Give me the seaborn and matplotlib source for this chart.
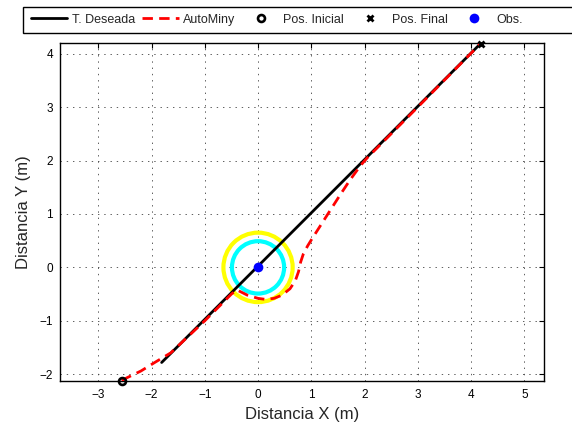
import numpy as np
import pandas as pd
import seaborn as sns
import matplotlib
matplotlib.use("Agg")
import matplotlib.pyplot as plt
from matplotlib.patches import Circle, Rectangle

# ---- data ----
des_x = [-1.81, 4.18]
des_y = [-1.78, 4.19]

auto_x = [-2.56, -2.47, -2.20, -1.94, -1.64, -1.00, -0.50, -0.40, -0.20, 0.00, 0.15,
          0.30, 0.45, 0.60, 0.70, 0.76, 0.80, 0.85, 0.93, 1.01, 1.19, 1.37, 1.55,
          1.73, 1.92, 2.05, 3.00, 4.18]
auto_y = [-2.12, -2.07, -1.94, -1.78, -1.60, -1.00, -0.50, -0.42, -0.52, -0.58, -0.60,
          -0.58, -0.52, -0.40, -0.25, -0.08, 0.10, 0.25, 0.40, 0.53, 0.81, 1.09, 1.37,
          1.64, 1.90, 2.05, 3.00, 4.19]

start_pt = (-2.56, -2.12)
end_pt = (4.18, 4.19)
obs_pt = (0.0, 0.0)
obs_radii = [0.65, 0.49]
obs_colors = ["#ffff00", "#00ffff"]

xticks = [-3, -2, -1, 0, 1, 2, 3, 4, 5]
yticks = [-2, -1, 0, 1, 2, 3, 4]
labels = ["T. Deseada", "AutoMiny", "Pos. Inicial", "Pos. Final", "Obs."]

# ---- style ----
sns.set_style("white")
plt.rcParams["font.family"] = ["Liberation Sans", "DejaVu Sans"]
plt.rcParams["axes.unicode_minus"] = True
plt.rcParams["lines.scale_dashes"] = False

W, H = 572, 430
fig = plt.figure(figsize=(W / 100, H / 100), dpi=100)
ax = fig.add_axes([60 / W, 1 - 380.7 / H, 484 / W, 337.4 / H])

# obstacle rings
for r, c in zip(obs_radii, obs_colors):
    ax.add_patch(Circle(obs_pt, r, fill=False, edgecolor=c, linewidth=3.0, zorder=2))

sns.lineplot(x=des_x, y=des_y, sort=False, estimator=None, color="black",
             linewidth=2.0, ax=ax, label=labels[0], zorder=3)
red = sns.lineplot(x=auto_x, y=auto_y, sort=False, estimator=None, color="red",
                   linewidth=2.0, ax=ax, label=labels[1], zorder=4)
red.get_lines()[-1].set_linestyle((0, (7.5, 4.5)))
sns.lineplot(x=[start_pt[0]], y=[start_pt[1]], estimator=None, color="black",
             linestyle="none", marker="o", markersize=5, markeredgewidth=1.9,
             markerfacecolor="none", markeredgecolor="black", ax=ax,
             label=labels[2], zorder=5, clip_on=False)
sns.lineplot(x=[end_pt[0]], y=[end_pt[1]], estimator=None, color="black",
             linestyle="none", marker="x", markersize=5, markeredgewidth=2.0,
             markeredgecolor="black", ax=ax, label=labels[3], zorder=5, clip_on=False)
sns.lineplot(x=[obs_pt[0]], y=[obs_pt[1]], estimator=None, color="blue",
             linestyle="none", marker="o", markersize=7, markeredgewidth=0,
             markerfacecolor="blue", ax=ax, label=labels[4], zorder=6)

ax.set_xlim(-3.719, 5.370)
ax.set_ylim(-2.121, 4.194)
ax.set_xticks(xticks)
ax.set_yticks(yticks)
ax.tick_params(direction="in", top=True, right=True, length=3.5, width=0.8,
               labelsize=8.5, colors="black")
ax.tick_params(axis="x", pad=6)
ax.tick_params(axis="y", pad=5)
for s in ax.spines.values():
    s.set_visible(True)
    s.set_color("black")
    s.set_linewidth(1.0)
ax.grid(True, color="#444444", linewidth=0.6, linestyle=(0, (1, 3.5)))
ax.set_axisbelow(True)
ax.set_xlabel("Distancia X (m)", fontsize=12, labelpad=4)
ax.set_ylabel("Distancia Y (m)", fontsize=12, labelpad=6)

handles, labs = ax.get_legend_handles_labels()
ax.get_legend().remove()

# legend frame (runs off the right edge like the reference)
fig.patches.append(Rectangle((23.3 / W, 1 - 32.7 / H), (W + 10 - 23.3) / W, 26 / H,
                             transform=fig.transFigure, facecolor="white",
                             edgecolor="black", linewidth=1.0, zorder=0))
leg = fig.legend(handles, labs, loc="center left", bbox_to_anchor=(31.0 / W, 1 - 19.7 / H),
                 ncol=5, fontsize=9, frameon=False, borderpad=0, handlelength=2.9,
                 handletextpad=0.35, columnspacing=0.6, borderaxespad=0)

fig.savefig("out.png", dpi=100)
